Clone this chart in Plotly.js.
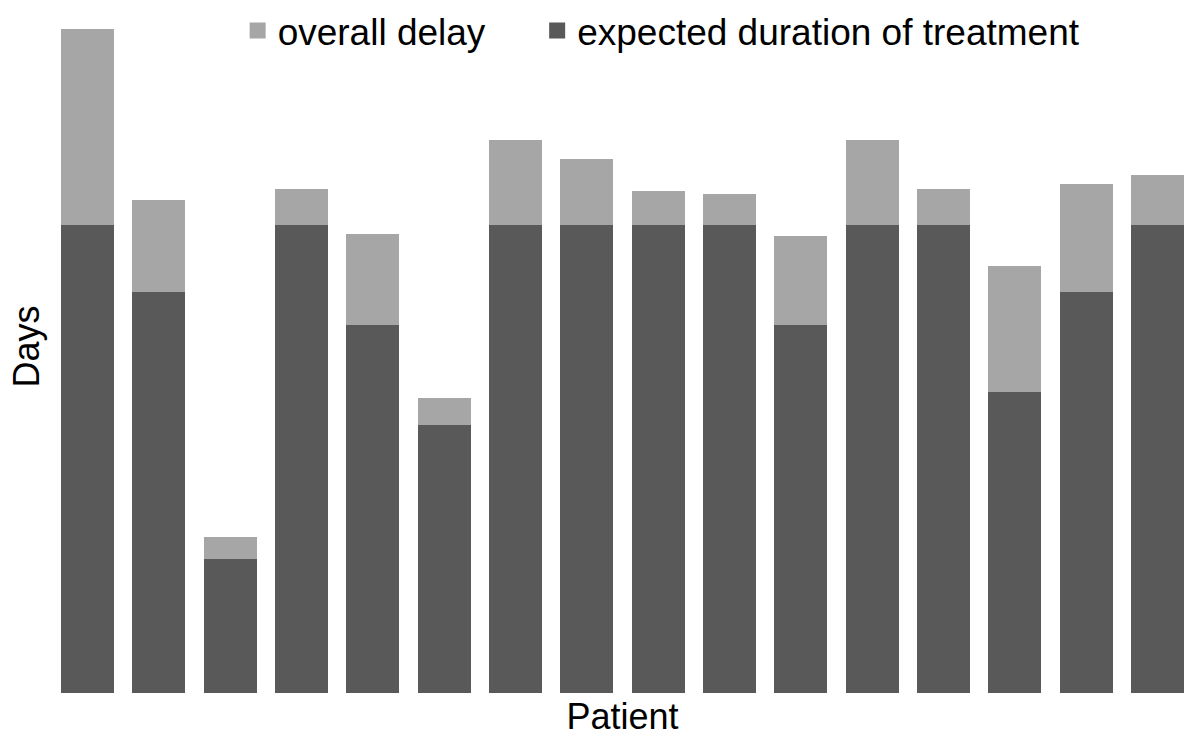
<!DOCTYPE html>
<html>
<head>
<meta charset="utf-8">
<script src="https://cdn.plot.ly/plotly-3.0.1.min.js"></script>
<style>
  html, body { margin: 0; padding: 0; background: #fff; }
  #plot { width: 1200px; height: 748px; }
</style>
</head>
<body>
<div id="plot"></div>
<script>
  // one bar per patient, no tick labels on the original
  var patients = ['1', '2', '3', '4', '5', '6', '7', '8', '9', '10', '11', '12', '13', '14', '15', '16'];

  // days
  var expectedDuration = [70, 60, 20, 70, 55, 40, 70, 70, 70, 70, 55, 70, 70, 45, 60, 70];
  var overallDelay = [29.3, 13.7, 3.3, 5.3, 13.6, 4.1, 12.7, 9.8, 5.0, 4.6, 13.3, 12.7, 5.3, 18.8, 16.1, 7.4];

  var darkGrey = '#595959';
  var lightGrey = '#a6a6a6';

  var durationTrace = {
    x: patients,
    y: expectedDuration,
    type: 'bar',
    name: 'expected duration of treatment',
    marker: { color: darkGrey },
    showlegend: false,
    hoverinfo: 'y'
  };

  var delayTrace = {
    x: patients,
    y: overallDelay,
    type: 'bar',
    name: 'overall delay',
    marker: { color: lightGrey },
    showlegend: false,
    hoverinfo: 'y'
  };

  // legend-only entries so the swatches come out bigger than bar swatches,
  // each in its own legend so the spacing can be set
  var delayKey = {
    x: [null], y: [null],
    type: 'scatter', mode: 'markers',
    name: 'overall delay',
    legend: 'legend',
    marker: { symbol: 'square', size: 18, color: lightGrey }
  };
  var durationKey = {
    x: [null], y: [null],
    type: 'scatter', mode: 'markers',
    name: 'expected duration of treatment',
    legend: 'legend2',
    marker: { symbol: 'square', size: 18, color: darkGrey }
  };

  var data = [durationTrace, delayTrace, delayKey, durationKey];

  // legends sit inside the plot area so they don't push the top margin
  var keyStyle = {
    orientation: 'h',
    xanchor: 'left', yanchor: 'top',
    y: 1,
    bgcolor: 'rgba(0,0,0,0)',
    font: { size: 37, color: '#000' }
  };

  var layout = {
    barmode: 'stack',
    bargap: 0.257,
    width: 1200,
    height: 748,
    margin: { l: 52, r: 7, t: 0, b: 55 },
    paper_bgcolor: '#fff',
    plot_bgcolor: '#fff',
    font: { family: '"Liberation Sans", Arial, sans-serif', size: 36, color: '#000' },
    showlegend: true,
    legend: Object.assign({}, keyStyle, { x: 0.1627 }),
    legend2: Object.assign({}, keyStyle, { x: 0.4252 }),
    xaxis: {
      type: 'category',
      showticklabels: false,
      ticks: '',
      showgrid: false,
      zeroline: false,
      showline: false,
      title: { text: 'Patient', font: { size: 36 }, standoff: 10 }
    },
    yaxis: {
      range: [0, 103.6],
      showticklabels: false,
      ticks: '',
      showgrid: false,
      zeroline: false,
      showline: false,
      title: { text: 'Days', font: { size: 36 }, standoff: 0 }
    }
  };

  Plotly.newPlot('plot', data, layout, { staticPlot: true });
</script>
</body>
</html>
